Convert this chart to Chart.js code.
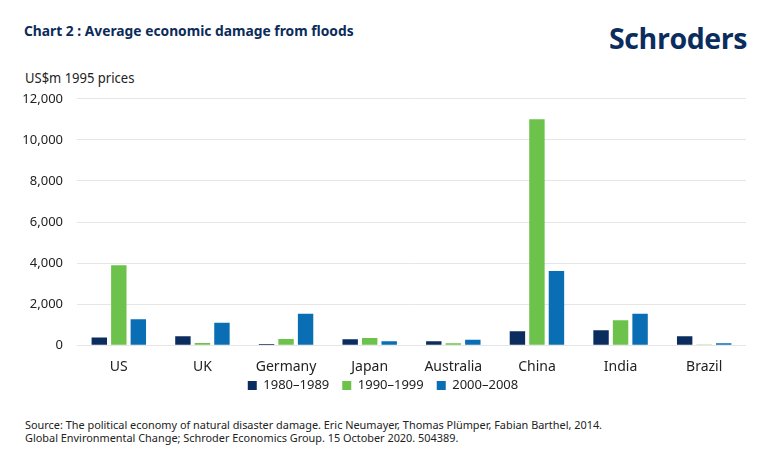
<!DOCTYPE html>
<html>
<head>
<meta charset="utf-8">
<script src="https://cdn.jsdelivr.net/npm/chart.js@4.4.1/dist/chart.umd.min.js"></script>
<style>
  html, body { margin: 0; padding: 0; background: #fff; }
  body { width: 770px; height: 454px; position: relative; overflow: hidden; font-family: "Noto Sans", sans-serif; }
  .title { position: absolute; left: 24px; top: 20px; font-size: 15px; font-weight: 700; color: #0b2c5a; white-space: nowrap; transform: scaleX(0.92); transform-origin: left top; }
  .logo { position: absolute; left: 609px; top: 19px; font-family: "Open Sans", sans-serif; font-size: 28.5px; font-weight: 700; color: #0b2d5e; letter-spacing: -0.4px; white-space: nowrap; }
  .unit { position: absolute; left: 25px; top: 68px; font-size: 14px; color: #222; white-space: nowrap; transform: scaleX(0.93); transform-origin: left top; }
  .source { position: absolute; left: 25px; top: 418px; font-size: 10.9px; line-height: 13px; color: #222; white-space: nowrap; }
  #chart { position: absolute; left: 0; top: 77px; }
</style>
</head>
<body>
<div class="title">Chart 2 : Average economic damage from floods</div>
<div class="logo">Schroders</div>
<div class="unit">US$m 1995 prices</div>
<canvas id="chart" width="770" height="339"></canvas>
<div class="source">Source: The political economy of natural disaster damage. Eric Neumayer, Thomas Plümper, Fabian Barthel, 2014.<br>Global Environmental Change; Schroder Economics Group. 15 October 2020. 504389.</div>
<script>
// values, US$m 1995 prices
const countries = ['US', 'UK', 'Germany', 'Japan', 'Australia', 'China', 'India', 'Brazil'];
const decade1980s = [370, 430, 60, 290, 190, 680, 730, 430];
const decade1990s = [3890, 110, 300, 350, 100, 11000, 1210, 10];
const decade2000s = [1260, 1090, 1530, 190, 270, 3610, 1530, 100];
const seriesNames = ['1980–1989', '1990–1999', '2000–2008'];
const yTicks = [0, 2000, 4000, 6000, 8000, 10000, 12000];

const colors = ['#0b2c5e', '#6cc24a', '#0a6eb4'];
const textColor = '#222222';

// legend padding also sets the gap between items, so pull the legend box up afterwards
const legendLift = {
  id: 'legendLift',
  afterLayout(chart) {
    const lift = 14;
    chart.legend.top -= lift;
    chart.legend.bottom -= lift;
  },
};

const ctx = document.getElementById('chart').getContext('2d');
new Chart(ctx, {
  type: 'bar',
  data: {
    labels: countries,
    datasets: [decade1980s, decade1990s, decade2000s].map((values, i) => ({
      label: seriesNames[i],
      data: values,
      backgroundColor: colors[i],
      borderWidth: 0,
      categoryPercentage: 0.7,
      barPercentage: 0.79,
    })),
  },
  options: {
    responsive: false,
    animation: false,
    devicePixelRatio: 1,
    layout: { padding: { left: 20, right: 24, top: 0, bottom: 0 } },
    scales: {
      x: {
        grid: { display: false },
        border: { display: false },
        ticks: { color: textColor, font: { family: 'Noto Sans', size: 14 }, padding: 5 },
      },
      y: {
        min: 0,
        max: 12000,
        afterBuildTicks: (axis) => { axis.ticks = yTicks.map((v) => ({ value: v })); },
        afterFit: (axis) => { axis.width = 57; },
        grid: { color: '#e6e6e6', drawTicks: false },
        border: { display: false },
        ticks: {
          color: textColor,
          padding: 14,
          font: { family: 'Noto Sans', size: 13 },
          callback: (v) => v.toLocaleString('en-US'),
        },
      },
    },
    plugins: {
      legend: {
        position: 'bottom',
        labels: {
          color: textColor,
          boxWidth: 9,
          boxHeight: 9,
          padding: 13,
          font: { family: 'Noto Sans', size: 13 },
        },
      },
      tooltip: { enabled: false },
    },
  },
  plugins: [legendLift],
});
</script>
</body>
</html>
